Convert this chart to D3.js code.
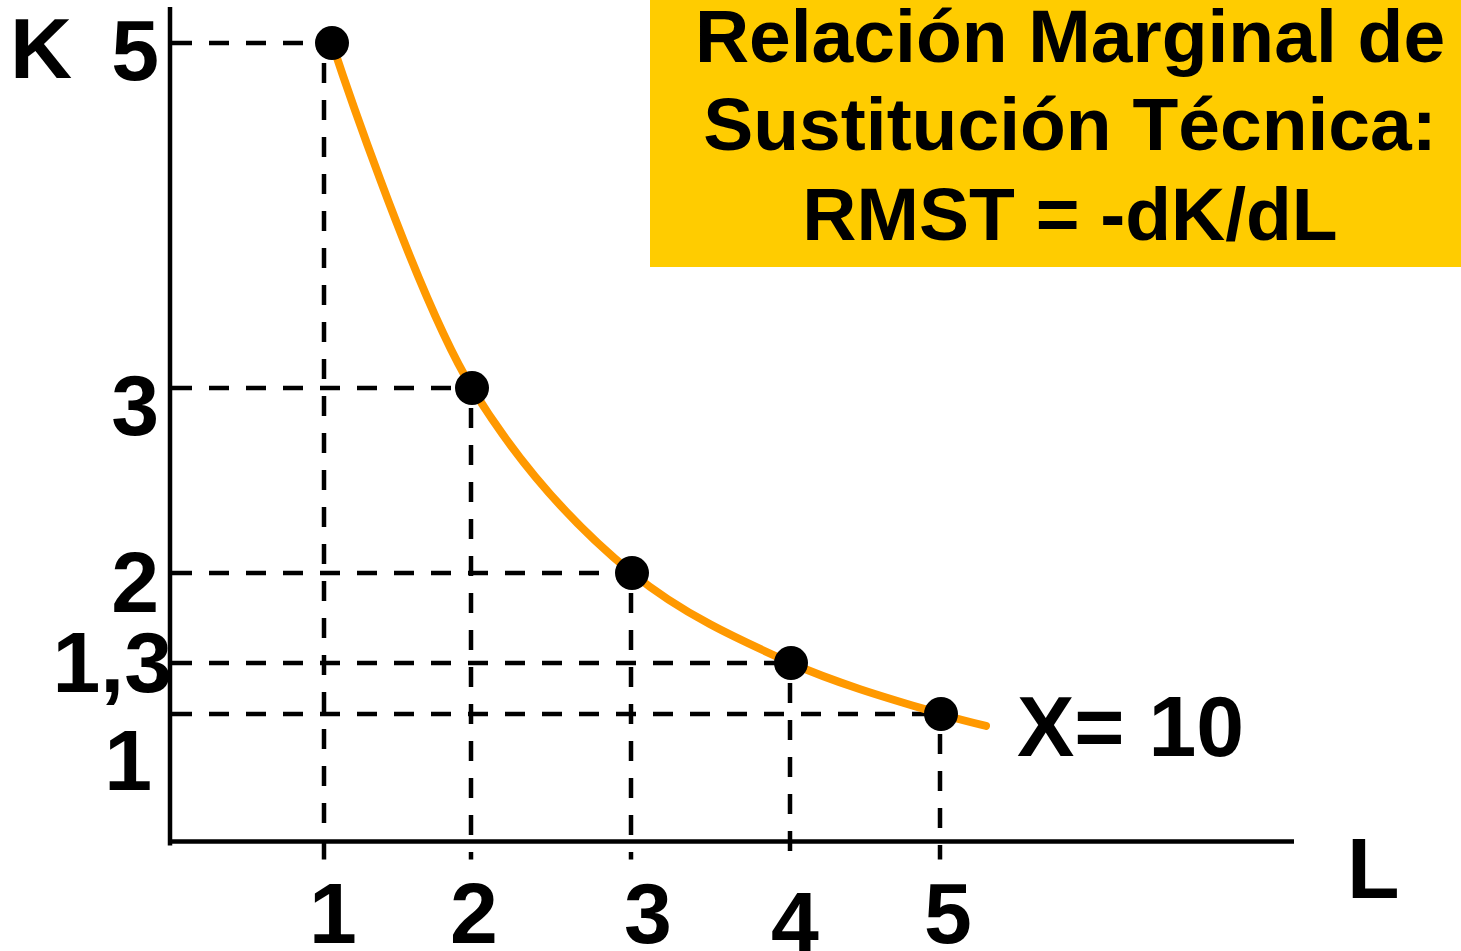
<!DOCTYPE html>
<html>
<head>
<meta charset="utf-8">
<script src="https://cdn.jsdelivr.net/npm/d3@7"></script>
<style>
  html, body { margin: 0; padding: 0; background: #fff; }
  svg { display: block; }
  text { font-family: "Liberation Sans", Arial, sans-serif; font-weight: bold; fill: #000; }
</style>
</head>
<body>
<svg id="chart" width="1461" height="951"></svg>
<script>
// Isoquant X = 10: combinations of labour (L) and capital (K)
const laborL = [1, 2, 3, 4, 5];
const capitalK = [5, 3, 2, 1.3, 1];
// where the drawn curve trails off past the last marked point
const curveTailL = 5.3;
const curveTailK = 0.93;

const lTickLabels = ["1", "2", "3", "4", "5"];
const kTickValues = [5, 3, 2, 1.3, 1];
const kTickLabels = ["5", "3", "2", "1,3", "1"];

const titleLines = ["Relación Marginal de", "Sustitución Técnica:", "RMST = -dK/dL"];
const isoquantLabel = "X= 10";
const axisNameK = "K";
const axisNameL = "L";

// ---- layout ----
const W = 1461, H = 951;
const svg = d3.select("#chart");

const originX = 170, originY = 841.5;
const axisTop = 7, axisRight = 1294;

// the diagram is not drawn to scale, so both scales are piecewise
const x = d3.scaleLinear().domain([1, 2, 3, 4, 5]).range([332, 472, 632, 791, 941]);
const y = d3.scaleLinear().domain([1, 1.3, 2, 3, 5]).range([714, 663, 573, 388, 43]);

// label placement (anchor x, baseline y) for the hand-set tick labels
const kLabelPos = [[159, 80], [159, 435], [159, 612], [172, 692], [152, 790]];
const lLabelPos = [[333, 943], [474, 943], [648, 943], [795, 952], [948, 943]];

const points = laborL.map((l, i) => ({ l, k: capitalK[i] }));

// title box
svg.append("rect")
  .attr("x", 650).attr("y", 0)
  .attr("width", W - 650).attr("height", 267)
  .attr("fill", "#FFCC00");

svg.append("g").selectAll("text")
  .data(titleLines)
  .join("text")
  .attr("x", 1070)
  .attr("y", (d, i) => [62, 150, 240][i])
  .attr("text-anchor", "middle")
  .attr("font-size", 75)
  .text(d => d);

// dashed guide lines
const dash = "20 17";
const guides = svg.append("g")
  .attr("stroke", "#000")
  .attr("stroke-width", 4.5)
  .attr("stroke-dasharray", dash)
  .attr("fill", "none");

guides.selectAll("line.h")
  .data(points)
  .join("line")
  .attr("class", "h")
  .attr("x1", originX + 2)
  .attr("x2", d => x(d.l))
  .attr("y1", d => y(d.k))
  .attr("y2", d => y(d.k));

guides.selectAll("line.v")
  .data(points)
  .join("line")
  .attr("class", "v")
  .attr("x1", (d, i) => x(d.l) - (i === 0 ? 8 : 1))
  .attr("x2", (d, i) => x(d.l) - (i === 0 ? 8 : 1))
  .attr("y1", d => y(d.k) + 20)
  .attr("y2", originY + 18);

// axes
const axes = svg.append("g").attr("stroke", "#000").attr("stroke-width", 4.5);
axes.append("line")
  .attr("x1", originX).attr("x2", originX)
  .attr("y1", axisTop).attr("y2", originY + 4);
axes.append("line")
  .attr("x1", originX - 2).attr("x2", axisRight)
  .attr("y1", originY).attr("y2", originY);

// isoquant curve
const curveData = points.concat([{ l: curveTailL, k: curveTailK }]);
svg.append("path")
  .datum(curveData)
  .attr("fill", "none")
  .attr("stroke", "#FF9900")
  .attr("stroke-width", 8)
  .attr("stroke-linecap", "round")
  .attr("d", d3.line().x(d => x(d.l)).y(d => y(d.k)).curve(d3.curveCatmullRom.alpha(0.5)));

// points
svg.append("g").selectAll("circle")
  .data(points)
  .join("circle")
  .attr("cx", d => x(d.l))
  .attr("cy", d => y(d.k))
  .attr("r", 17)
  .attr("fill", "#000");

// tick labels
svg.append("g").selectAll("text")
  .data(kTickLabels)
  .join("text")
  .attr("x", (d, i) => kLabelPos[i][0])
  .attr("y", (d, i) => kLabelPos[i][1])
  .attr("text-anchor", "end")
  .attr("font-size", 86)
  .text(d => d);

svg.append("g").selectAll("text")
  .data(lTickLabels)
  .join("text")
  .attr("x", (d, i) => lLabelPos[i][0])
  .attr("y", (d, i) => lLabelPos[i][1])
  .attr("text-anchor", "middle")
  .attr("font-size", 86)
  .text(d => d);

// axis names and curve label
svg.append("text").attr("x", 10).attr("y", 78).attr("font-size", 86).text(axisNameK);
svg.append("text").attr("x", 1347).attr("y", 898).attr("font-size", 86).text(axisNameL);
svg.append("text").attr("x", 1017).attr("y", 756).attr("font-size", 86).text(isoquantLabel);
</script>
</body>
</html>
